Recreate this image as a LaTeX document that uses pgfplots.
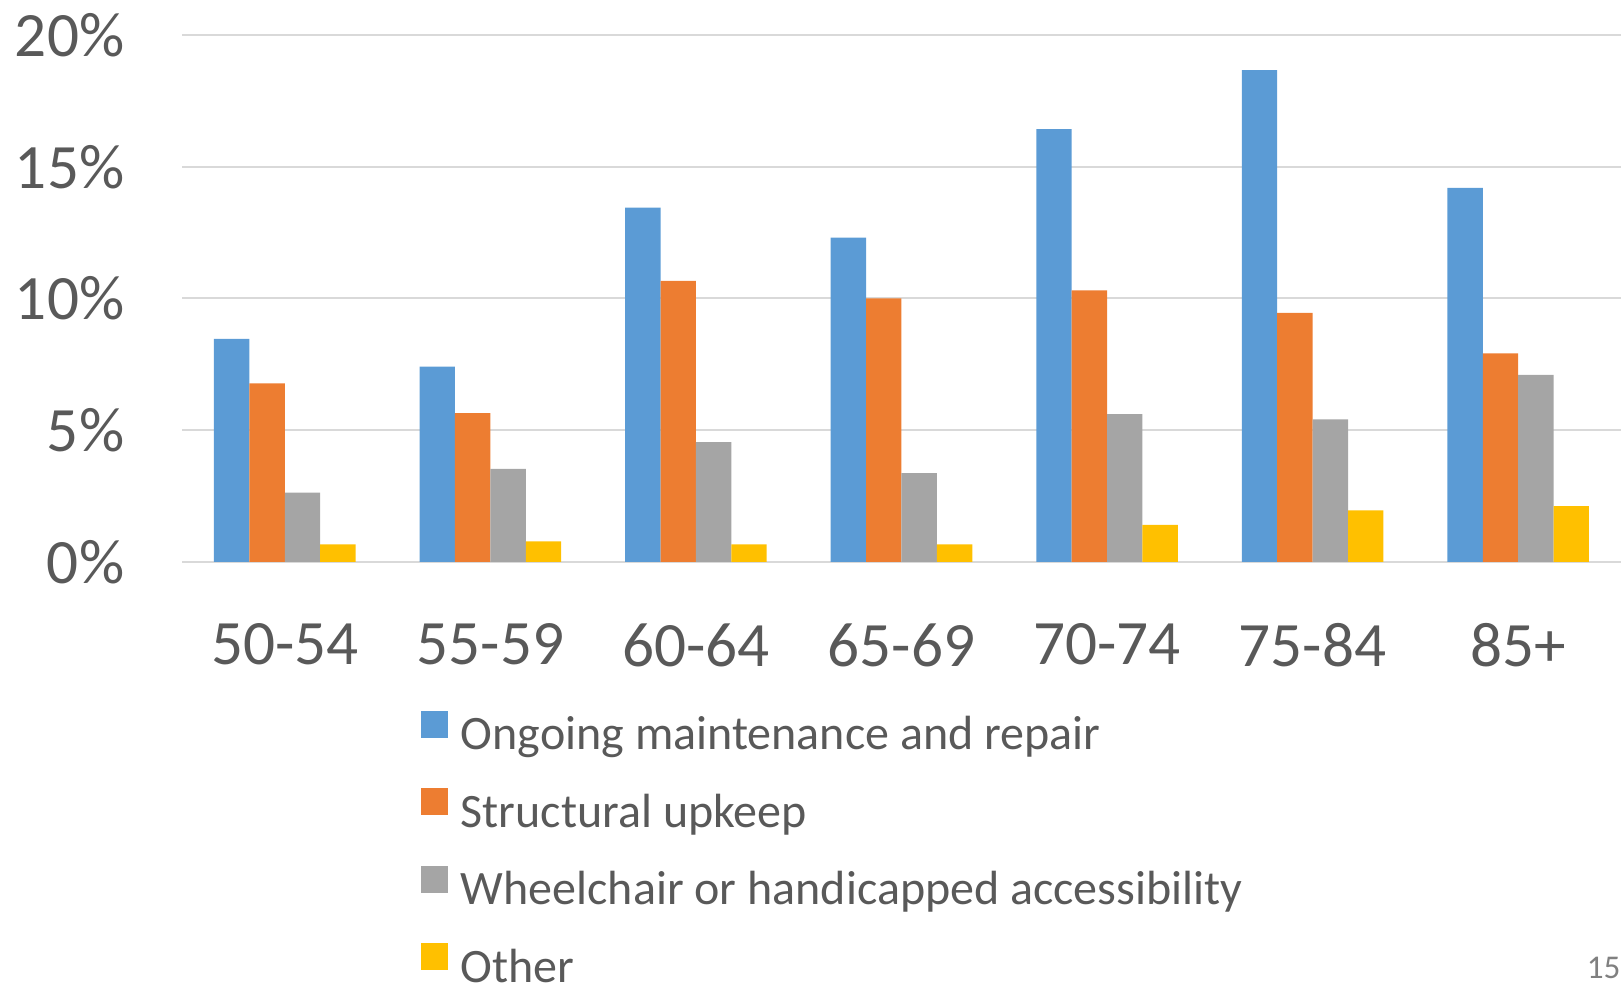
\documentclass[border=0pt]{standalone}
\usepackage{fontspec}
\setmainfont{Carlito}
\usepackage{pgfplots}
\pgfplotsset{compat=1.18}
\definecolor{sBlue}{HTML}{5B9BD5}
\definecolor{sOrange}{HTML}{ED7D31}
\definecolor{sGray}{HTML}{A5A5A5}
\definecolor{sGold}{HTML}{FFC000}
\definecolor{txt}{HTML}{595959}
\definecolor{gridc}{HTML}{D9D9D9}

\pgfplotsset{sq legend/.style={legend image code/.code={\fill[##1] (0pt,0pt) rectangle (6.75pt,6.75pt);}}}

\begin{document}
\begin{tikzpicture}
\path[use as bounding box] (0,0) rectangle (405.25pt,245.75pt);
\begin{axis}[
  at={(45.5pt,105.25pt)},anchor=south west,
  scale only axis,width=359.75pt,height=131.75pt,
  ybar=0pt,bar width=8.85pt,
  xmin=-0.5,xmax=6.5,ymin=0,ymax=20,
  xtick=data,
  xticklabels={50-54,55-59,60-64,65-69,70-74,75-84,85+},
  ytick={0,5,10,15,20},
  yticklabel={\pgfmathprintnumber{\tick}\%},
  /pgf/number format/assume math mode=true,
  axis line style={draw=none},
  major tick length=0pt,
  ymajorgrids=true,grid style={gridc,line width=0.5pt},
  xticklabel style={font=\fontsize{15.8}{18}\selectfont,text=txt,inner sep=0pt,anchor=north},
  yticklabel style={font=\fontsize{15.8}{18}\selectfont,text=txt,inner sep=0pt,anchor=east},
  xticklabel shift=15.25pt,
  yticklabel shift=14.25pt,
  legend style={draw=none,fill=none,at={(0.1654,-0.281)},anchor=north west,
    font=\fontsize{12.0}{14}\selectfont,text=txt,
    inner sep=0pt,row sep=6.6pt,column sep=3.25pt,
    nodes={inner sep=0pt,text height=9pt,text depth=3pt}},
  legend cell align=left,
]
\addplot[fill=sBlue,draw=none,sq legend] coordinates {
(0,8.47) (1,7.41) (2,13.45) (3,12.31) (4,16.43) (5,18.67) (6,14.2)};
\addplot[fill=sOrange,draw=none,sq legend] coordinates {
(0,6.78) (1,5.65) (2,10.67) (3,10.0) (4,10.31) (5,9.45) (6,7.92)};
\addplot[fill=sGray,draw=none,sq legend] coordinates {
(0,2.63) (1,3.53) (2,4.55) (3,3.37) (4,5.61) (5,5.41) (6,7.1)};
\addplot[fill=sGold,draw=none,sq legend] coordinates {
(0,0.67) (1,0.78) (2,0.67) (3,0.67) (4,1.41) (5,1.96) (6,2.12)};
\legend{Ongoing maintenance and repair,Structural upkeep,Wheelchair or handicapped accessibility,Other}
\end{axis}
\node[anchor=base west,inner sep=0pt,text=gray,font=\fontsize{8.3}{10}\selectfont] at (396.5pt,1.2pt) {15};
\end{tikzpicture}
\end{document}
